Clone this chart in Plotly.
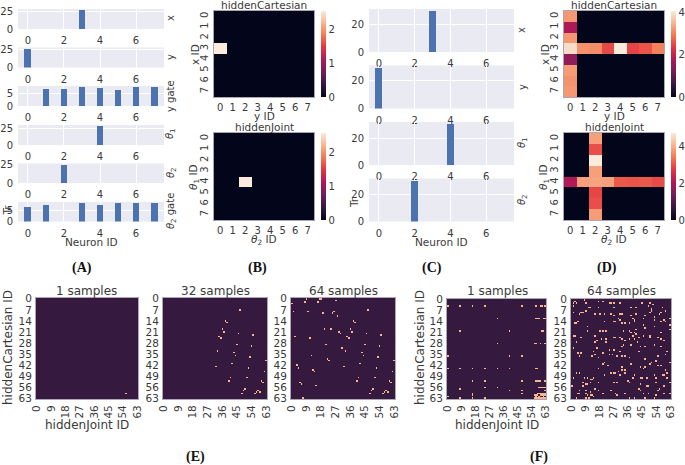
import numpy as np
import plotly.graph_objects as go

W, H = 685, 465

neurons = list(range(8))
A_x = [0, 0, 0, 26.4, 0, 0, 0, 0]
A_y = [25.9, 0, 0, 0, 0, 0, 0, 0]
A_ygate = [0, 6.76, 6.9, 7.7, 7.4, 6.6, 7.6, 7.7]
A_t1 = [0, 0, 0, 0, 28.5, 0, 0, 0]
A_t2 = [0, 0, 25, 0, 0, 0, 0, 0]
A_t2gate = [6.7, 7.7, 0, 8.5, 7.6, 8.3, 8.3, 8.5]
C_x = [0, 0, 0, 29.8, 0, 0, 0, 0]
C_y = [29.3, 0, 0, 0, 0, 0, 0, 0]
C_t1 = [0, 0, 0, 0, 30.5, 0, 0, 0]
C_t2 = [0, 0, 30.4, 0, 0, 0, 0, 0]

B_top_rows, B_top_cols, B_top_vals = [3], [0], [2.53]
B_bot_rows, B_bot_cols, B_bot_vals = [4], [2], [2.57]
D_top_col0 = [3.2, 1.75, 3.2, 3.9, 1.45, 3.25, 3.15, 3.2]
D_top_row3 = [3.9, 3.15, 3.1, 2.5, 4.05, 2.45, 2.6, 3.0]
D_bot_col2 = [3.85, 3.0, 4.75, 3.85, 3.9, 2.9, 3.0, 3.8]
D_bot_row4 = [2.1, 3.85, 3.9, 3.85, 3.1, 3.05, 3.1, 2.95]

E_1_rows, E_1_cols = [60], [56]
E_32_rows = [7, 14, 15, 19, 21, 22, 23, 24, 25, 29, 30, 33, 34, 36, 37, 39, 41, 43, 44, 46,
             50, 50, 52, 52, 53, 57, 58, 60, 58, 59, 59, 60]
E_32_cols = [47, 38, 39, 36, 37, 46, 55, 34, 35, 45, 54, 33, 43, 44, 53, 63, 42, 32, 52, 62,
             41, 51, 40, 60, 61, 50, 49, 48, 58, 57, 59, 56]
E_64_extra_rows = [0, 0, 0, 1, 2, 2, 3, 8, 8, 9, 8, 9, 11, 19, 19, 21, 22, 24, 25, 29, 31,
                   36, 38, 39, 42, 44, 45, 46, 53, 54, 55, 63]
E_64_extra_cols = [9, 17, 18, 27, 8, 16, 0, 1, 10, 19, 26, 25, 28, 20, 24, 29, 30, 2, 11, 21, 31,
                   12, 22, 23, 3, 4, 13, 14, 5, 6, 15, 7]

F_1_rows = [4, 4, 4, 4, 4, 4, 4, 4, 4, 12, 12, 12, 12, 12, 12, 20, 20, 20, 20, 28, 28, 28, 28, 28,
            36, 36, 36, 44, 44, 44, 44, 44, 44, 44, 44, 44, 52, 52, 52, 52, 52, 52, 52, 52,
            56, 56, 56, 56, 56, 56, 56, 56, 57, 58, 58, 58, 58,
            60, 60, 60, 60, 60, 60, 60, 60, 61, 61, 61, 61, 61, 61, 61, 61, 62, 62, 62, 62,
            63, 63, 63, 63, 63, 63, 63, 63, 63, 63, 63, 63]
F_1_cols = [0, 8, 16, 24, 48, 57, 60, 61, 63, 32, 57, 58, 59, 62, 63, 8, 40, 61, 62, 32, 56, 57, 60, 63,
            0, 40, 48, 0, 8, 16, 24, 32, 40, 57, 58, 0, 24, 48, 57, 58, 59, 60, 63,
            16, 24, 32, 59, 60, 61, 62, 63, 32, 8, 40, 48, 63,
            40, 48, 58, 59, 60, 61, 62, 63, 16, 56, 57, 58, 60, 61, 62, 63, 16, 57, 59, 62,
            0, 8, 16, 24, 56, 57, 58, 59, 60, 61, 62, 63]
F_1_n = min(len(F_1_rows), len(F_1_cols))

F_64_rows = [1, 2, 2, 0, 2, 1, 1, 2, 2, 2, 2, 4, 5, 5, 5, 5, 8, 8, 9, 8, 7, 9, 9, 9, 9, 10, 9, 12, 13,
             14, 15, 15, 17, 14, 14, 14, 23, 23, 27, 31, 24, 20, 23, 26, 27, 20, 20, 20, 31, 25, 25,
             24, 24, 24, 27,
             2, 2, 3, 4, 6, 5, 5, 5, 7, 8, 9, 8, 7, 9, 9, 10, 12, 13, 10, 12, 11, 13, 14, 13, 14, 12,
             16, 15, 15, 15, 14, 16, 17, 19, 20, 20, 21, 19, 21, 18, 21, 25, 26, 25, 23, 22, 25, 24,
             23, 23, 24, 24, 25, 26, 29, 27, 30, 30, 30, 29, 29, 30,
             34, 34, 36, 36, 33, 35, 34, 32, 32, 35, 35, 36, 33, 37, 40, 41, 42, 44, 47, 47, 47, 48,
             46, 48, 47, 47, 50, 50, 50, 51, 51, 53, 53, 53, 50, 53, 54, 54, 53, 55, 58, 58, 59, 58,
             57, 60, 60, 60, 61, 61, 61, 62, 55, 58, 60, 60, 61, 63, 63, 63,
             36, 36, 37, 33, 38, 41, 40, 39, 36, 35, 33, 42, 42, 43, 45, 41, 45, 47, 43, 44, 43, 40,
             47, 48, 48, 48, 45, 50, 48, 50, 50, 50, 50, 52, 53, 50, 54, 55, 55, 53, 55, 53, 57, 58,
             57, 58, 60, 60, 60, 61, 60, 60, 63, 63, 63, 63]
F_64_cols = [2, 3, 1, 8, 9, 17, 20, 24, 25, 27, 31, 1, 11, 12, 27, 17, 6, 7, 5, 1, 9, 18, 15, 21, 25,
             27, 31, 30, 31, 4, 2, 3, 10, 21, 27, 28, 1, 2, 3, 1, 6, 10, 15, 16, 15, 18, 20, 22, 16,
             19, 22, 27, 28, 31, 22,
             45, 50, 52, 49, 51, 58, 41, 38, 51, 50, 56, 57, 60, 32, 41, 38, 39, 40, 47, 46, 53, 53,
             57, 59, 60, 63, 63, 32, 34, 37, 40, 46, 53, 63, 33, 37, 38, 41, 40, 47, 57, 32, 34, 37,
             39, 41, 40, 43, 46, 50, 50, 55, 57, 59, 38, 42, 44, 47, 32, 33, 53, 57,
             4, 6, 5, 13, 14, 15, 20, 24, 27, 24, 26, 29, 31, 17, 21, 20, 23, 17, 25, 27, 28, 21,
             30, 31, 3, 5, 1, 8, 10, 12, 13, 17, 27, 29, 14, 7, 9, 10, 12, 7, 5, 9, 12, 17,
             15, 4, 5, 9, 10, 13, 12, 14, 0, 25, 28, 20, 29, 3, 9, 11,
             32, 34, 37, 43, 47, 50, 51, 54, 55, 60, 61, 55, 57, 32, 32, 38, 34, 34, 44, 46, 47, 63,
             61, 59, 58, 53, 60, 61, 40, 44, 45, 48, 54, 36, 37, 39, 44, 48, 49, 54, 59, 63, 56, 55,
             43, 44, 34, 46, 49, 54, 59, 63, 53, 37, 40, 47]

tick_font = dict(family="DejaVu Sans", size=10, color="#3a3a3a")
label_font = dict(family="DejaVu Sans", size=10.5, color="#3a3a3a")
ROCKET = [[0, "#03051a"], [1 / 7, "#35193e"], [2 / 7, "#701f57"], [3 / 7, "#ad1759"],
          [4 / 7, "#e13342"], [5 / 7, "#f37651"], [6 / 7, "#f6b48f"], [1, "#faebdd"]]
SPARSE = [[0, "#35193e"], [1, "#f6b48f"]]
EDGE = "#aaa6b4"

fig = go.Figure()
axis_index = 0
annotations = []


def next_axes():
    global axis_index
    axis_index += 1
    return "" if axis_index == 1 else str(axis_index)


def domains(left, top, right, bottom):
    return [left / W, right / W], [1 - bottom / H, 1 - top / H]


def note(text, x, y, size=10.5, angle=0, font=None, xanchor="center"):
    f = dict(font or label_font)
    f["size"] = size
    annotations.append(dict(text=text, x=x / W, y=1 - y / H, xref="paper", yref="paper",
                            showarrow=False, textangle=angle, font=f, xanchor=xanchor,
                            yanchor="middle", borderpad=0, xshift=0, yshift=0))


def add_bar(values, box, ymax, yticks):
    s = next_axes()
    dx, dy = domains(*box)
    fig.add_trace(go.Bar(x=neurons, y=values, width=0.38, marker=dict(color="#4c72b0", line_width=0),
                         xaxis="x" + s, yaxis="y" + s, showlegend=False))
    fig.layout["xaxis" + s] = dict(domain=dx, anchor="y" + s, range=[-0.55, 7.55], tickvals=[0, 2, 4, 6],
                                   showgrid=True, gridcolor="white", gridwidth=1, zeroline=False, automargin=False,
                                   tickfont=tick_font, ticks="outside", ticklen=2, tickcolor="rgba(0,0,0,0)")
    fig.layout["yaxis" + s] = dict(domain=dy, anchor="x" + s, range=[0, ymax], tickvals=yticks,
                                   showgrid=True, gridcolor="white", gridwidth=1, zeroline=False, automargin=False,
                                   tickfont=tick_font, ticks="outside", ticklen=2, tickcolor="rgba(0,0,0,0)")


def add_matrix(z, box, zmax, colorscale, ticks_x, ticks_y, size, angle_x, angle_y, colorbar=None):
    s = next_axes()
    dx, dy = domains(*box)
    n = len(z)
    trace = dict(z=z, zmin=0, zmax=zmax, colorscale=colorscale, xaxis="x" + s, yaxis="y" + s,
                 hoverinfo="skip", xgap=0, ygap=0)
    if colorbar:
        top, bottom, cb_left, tv = colorbar
        trace["colorbar"] = dict(x=cb_left / W, xanchor="left", xpad=0, ypad=0, y=1 - bottom / H, yanchor="bottom",
                                 len=(bottom - top) / H, lenmode="fraction", thickness=5, thicknessmode="pixels",
                                 outlinewidth=0, tickvals=tv, tickfont=tick_font, ticks="", ticklen=0)
        trace["showscale"] = True
    else:
        trace["showscale"] = False
    fig.add_trace(go.Heatmap(**trace))
    f = dict(tick_font)
    f["size"] = size
    fig.layout["xaxis" + s] = dict(domain=dx, anchor="y" + s, range=[-0.5, n - 0.5], tickvals=ticks_x, tickangle=angle_x,
                                   tickfont=f, showgrid=False, zeroline=False, showline=True, linecolor=EDGE, automargin=False,
                                   linewidth=1, mirror=True, ticks="outside", ticklen=1, tickcolor="rgba(0,0,0,0)")
    fig.layout["yaxis" + s] = dict(domain=dy, anchor="x" + s, range=[n - 0.5, -0.5], tickvals=ticks_y, tickangle=angle_y,
                                   tickfont=f, showgrid=False, zeroline=False, showline=True, linecolor=EDGE, automargin=False,
                                   linewidth=1, mirror=True, ticks="outside", ticklen=1, tickcolor="rgba(0,0,0,0)")


def cells(n, rows, cols, vals=None):
    z = np.zeros((n, n))
    for i, (r, c) in enumerate(zip(rows, cols)):
        z[r, c] = 1 if vals is None else vals[i]
    return z.tolist()


# Panel A
add_bar(A_x, (18, 9, 164, 29), 27.8, [0, 25])
add_bar(A_y, (18, 47.5, 164, 67.5), 27.3, [0, 25])
add_bar(A_ygate, (18, 86, 164, 106), 8.1, [0, 5])
add_bar(A_t1, (18, 125, 164, 145), 29.5, [0, 25])
add_bar(A_t2, (18, 163.5, 164, 183), 26.3, [0, 25])
add_bar(A_t2gate, (18, 202, 164, 221.5), 8.9, [0, 5])
for text, y in [("x", 18), ("y", 57), ("y gate", 96), ("<i>θ</i><sub>1</sub>", 134),
                ("<i>θ</i><sub>2</sub>", 173), ("<i>θ</i><sub>2</sub> gate", 211)]:
    note(text, 171, y, 10, -90)
note("Tr", 6.5, 210, 10.5, -90)
note("Neuron ID", 91, 242, 10.5)

# Panel C
add_bar(C_x, (369, 9, 514, 52), 31.2, [0, 20])
add_bar(C_y, (369, 65.5, 514, 108.5), 30.5, [0, 20])
add_bar(C_t1, (369, 122, 514, 165), 32, [0, 20])
add_bar(C_t2, (369, 178.5, 514, 221.5), 31.6, [0, 20])
for text, y in [("x", 30), ("y", 87), ("<i>θ</i><sub>1</sub>", 143), ("<i>θ</i><sub>2</sub>", 200)]:
    note(text, 522, y, 10, -90)
note("Tr", 354, 203, 10.5, -90)
note("Neuron ID", 441, 242, 10.5)

ids = list(range(8))
# Panel B
add_matrix(cells(8, B_top_rows, B_top_cols, B_top_vals), (214, 11, 314, 97), 2.53, ROCKET, ids, ids, 10, 0, -90,
           (11, 97, 321, [0, 1, 2]))
add_matrix(cells(8, B_bot_rows, B_bot_cols, B_bot_vals), (214, 133, 314, 220), 2.57, ROCKET, ids, ids, 10, 0, -90,
           (133, 220, 321, [0, 1, 2]))
note("hiddenCartesian", 264, 5, 10.5)
note("y ID", 264, 116, 10.5)
note("x ID", 195, 55, 10.5, -90)
note("hiddenJoint", 264, 127, 10.5)
note("<i>θ</i><sub>2</sub> ID", 264, 240, 10.5)
note("<i>θ</i><sub>1</sub> ID", 194, 177, 10.5, -90)

# Panel D
z_top = np.zeros((8, 8))
z_top[:, 0] = D_top_col0
z_top[3, :] = D_top_row3
z_bot = np.zeros((8, 8))
z_bot[:, 2] = D_bot_col2
z_bot[4, :] = D_bot_row4
add_matrix(z_top.tolist(), (564, 11, 664, 97), 4.05, ROCKET, ids, ids, 10, 0, -90, (11, 97, 671, [0, 2, 4]))
add_matrix(z_bot.tolist(), (564, 133, 664, 220), 4.75, ROCKET, ids, ids, 10, 0, -90, (133, 220, 671, [0, 2, 4]))
note("hiddenCartesian", 614, 5, 10.5)
note("y ID", 614, 116, 10.5)
note("x ID", 545, 55, 10.5, -90)
note("hiddenJoint", 614, 127, 10.5)
note("<i>θ</i><sub>2</sub> ID", 614, 240, 10.5)
note("<i>θ</i><sub>1</sub> ID", 544, 177, 10.5, -90)

# Panels E, F
t64y = list(range(0, 64, 7))
t64x = list(range(0, 64, 9))
add_matrix(cells(64, E_1_rows, E_1_cols), (36, 298, 138, 399), 1, SPARSE, t64x, t64y, 10.5, -90, 0)
add_matrix(cells(64, E_32_rows, E_32_cols), (163, 298, 267, 399), 1, SPARSE, t64x, t64y, 10.5, -90, 0)
add_matrix(cells(64, E_32_rows + E_64_extra_rows, E_32_cols + E_64_extra_cols), (291, 298, 395, 399), 1, SPARSE,
           t64x, t64y, 10.5, -90, 0)
add_matrix(cells(64, F_1_rows[:F_1_n], F_1_cols[:F_1_n]), (447, 299, 546, 399), 1, SPARSE, t64x, t64y, 10.5, -90, 0)
add_matrix(cells(64, F_64_rows, F_64_cols), (571, 299, 671, 399), 1, SPARSE, t64x, t64y, 10.5, -90, 0)

for text, x in [("1 samples", 87), ("32 samples", 215), ("64 samples", 343), ("1 samples", 497), ("64 samples", 621)]:
    note(text, x, 291, 12)
note("hiddenJoint ID", 87, 425, 12)
note("hiddenJoint ID", 497, 425, 12)
note("hiddenCartesian ID", 8, 348, 12, -90)
note("hiddenCartesian ID", 420, 348, 12, -90)

serif = dict(family="Liberation Serif", size=14, color="#111111")
for text, x, y in [("(A)", 82, 268), ("(B)", 257, 268), ("(C)", 432, 268), ("(D)", 607, 268),
                   ("(E)", 196, 457), ("(F)", 539, 457)]:
    note("<b>" + text + "</b>", x, y, 14, 0, serif)

fig.update_layout(width=W, height=H, margin=dict(l=0, r=0, t=0, b=0, autoexpand=False), paper_bgcolor="white",
                  plot_bgcolor="#eaeaf2", annotations=annotations, showlegend=False, bargap=0, template="none")
fig.write_html("out.html", config=dict(displayModeBar=False),
               post_script="document.body.style.margin='0';document.body.style.overflow='hidden';")
